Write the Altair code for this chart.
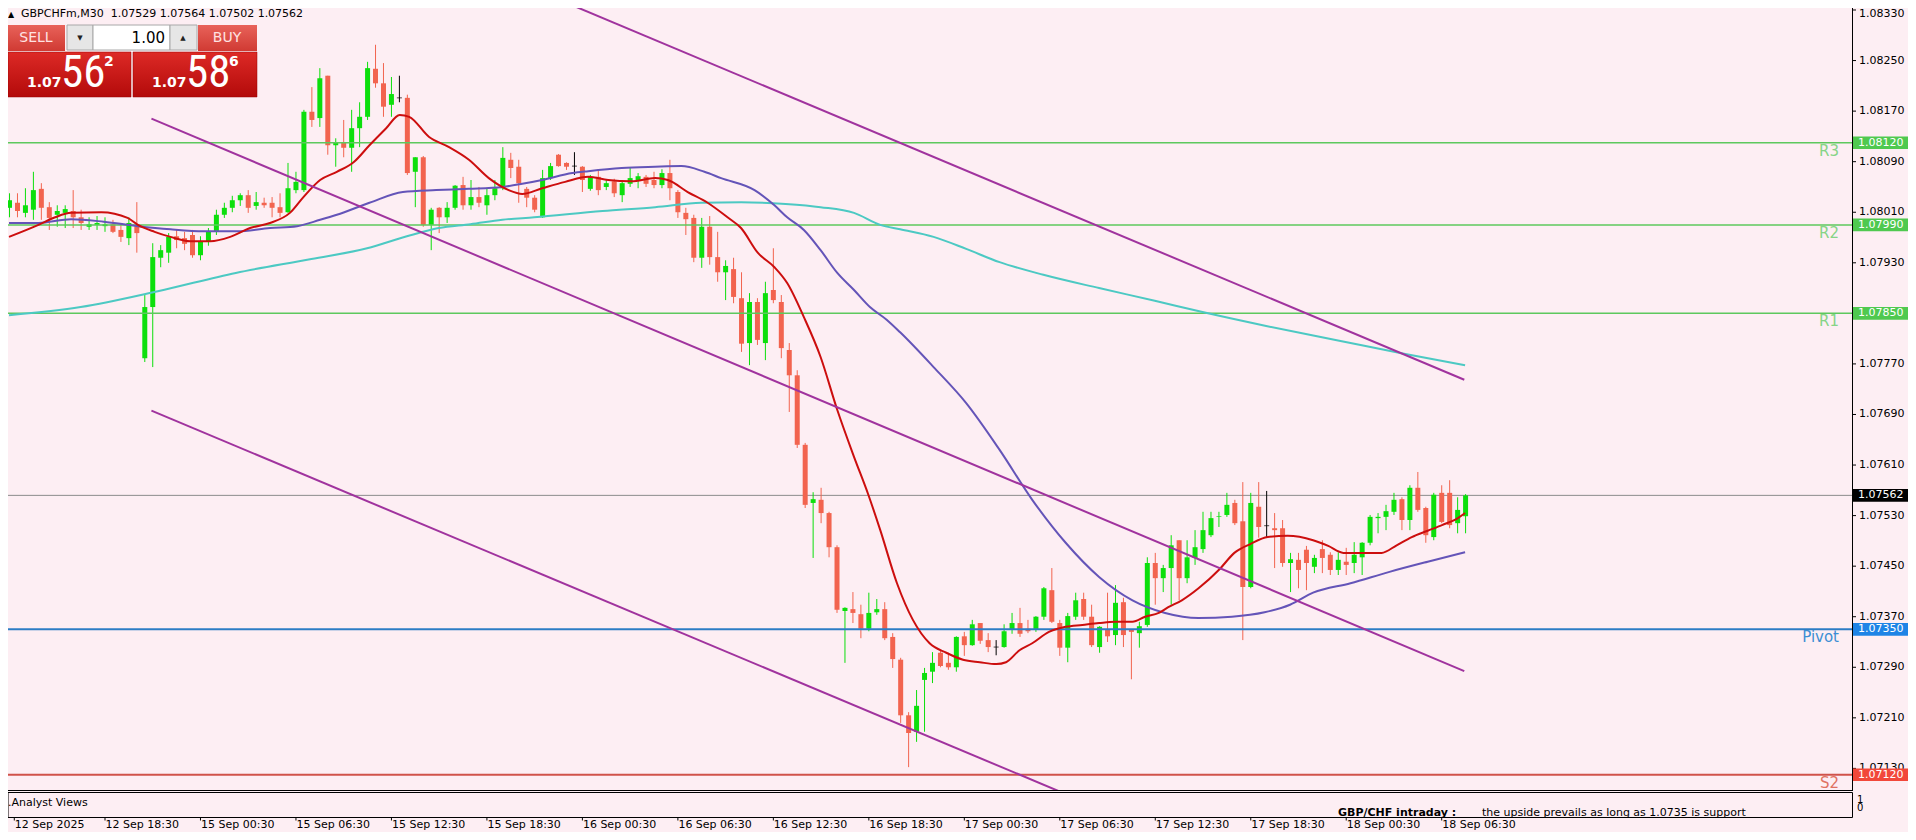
import altair as alt
import pandas as pd

# ---------------- data (GBPCHFm, M30) ----------------
bar_open = [1.08017, 1.08025, 1.08009, 1.08014, 1.08047, 1.08018, 1.08006, 1.08009, 1.08012, 1.08002,
            1.07987, 1.07990, 1.07988, 1.07991, 1.07982, 1.07969, 1.07988, 1.07779, 1.07860, 1.07938,
            1.07946, 1.07972, 1.07969, 1.07974, 1.07942, 1.07964, 1.07979, 1.08006, 1.08017, 1.08029,
            1.08037, 1.08020, 1.08025, 1.08025, 1.08018, 1.08010, 1.08045, 1.08045, 1.08169, 1.08159,
            1.08226, 1.08116, 1.08121, 1.08112, 1.08143, 1.08161, 1.08237, 1.08214, 1.08180, 1.08191,
            1.08191, 1.08074, 1.08097, 1.07990, 1.08017, 1.08002, 1.08017, 1.08053, 1.08021, 1.08034,
            1.08021, 1.08037, 1.08048, 1.08093, 1.08082, 1.08047, 1.08033, 1.08002, 1.08064, 1.08101,
            1.08088, 1.08083, 1.08082, 1.08047, 1.08066, 1.08050, 1.08059, 1.08037, 1.08055, 1.08061,
            1.08066, 1.08061, 1.08053, 1.08072, 1.08042, 1.08009, 1.08001, 1.07938, 1.07987, 1.07939,
            1.07915, 1.07920, 1.07874, 1.07803, 1.07868, 1.07803, 1.07887, 1.07868, 1.07792, 1.07752,
            1.07642, 1.07550, 1.07555, 1.07534, 1.07480, 1.07379, 1.07382, 1.07374, 1.07351, 1.07377,
            1.07382, 1.07338, 1.07302, 1.07214, 1.07188, 1.07270, 1.07283, 1.07313, 1.07297, 1.07290,
            1.07339, 1.07325, 1.07360, 1.07333, 1.07322, 1.07322, 1.07349, 1.07360, 1.07351, 1.07349,
            1.07370, 1.07412, 1.07360, 1.07321, 1.07370, 1.07398, 1.07370, 1.07322, 1.07349, 1.07341,
            1.07393, 1.07349, 1.07344, 1.07357, 1.07455, 1.07431, 1.07447, 1.07491, 1.07431, 1.07463,
            1.07477, 1.07499, 1.07528, 1.07531, 1.07550, 1.07521, 1.07417, 1.07544, 1.07514, 1.07510,
            1.07510, 1.07455, 1.07460, 1.07476, 1.07449, 1.07477, 1.07468, 1.07444, 1.07457, 1.07455,
            1.07464, 1.07487, 1.07526, 1.07528, 1.07536, 1.07556, 1.07523, 1.07574, 1.07542, 1.07496,
            1.07566, 1.07566, 1.07518, 1.07529]
bar_high = [1.08040, 1.08040, 1.08048, 1.08074, 1.08056, 1.08026, 1.08021, 1.08021, 1.08045, 1.08014,
            1.08002, 1.08004, 1.08002, 1.07998, 1.07991, 1.08002, 1.08026, 1.07879, 1.07961, 1.07958,
            1.07977, 1.07982, 1.07979, 1.07982, 1.07972, 1.07985, 1.08014, 1.08025, 1.08036, 1.08040,
            1.08045, 1.08042, 1.08033, 1.08034, 1.08040, 1.08088, 1.08074, 1.08172, 1.08208, 1.08238,
            1.08226, 1.08127, 1.08156, 1.08172, 1.08184, 1.08248, 1.08275, 1.08246, 1.08224, 1.08226,
            1.08196, 1.08097, 1.08099, 1.08017, 1.08018, 1.08026, 1.08053, 1.08066, 1.08061, 1.08050,
            1.08048, 1.08061, 1.08113, 1.08104, 1.08093, 1.08050, 1.08037, 1.08077, 1.08088, 1.08102,
            1.08089, 1.08105, 1.08083, 1.08069, 1.08078, 1.08061, 1.08063, 1.08061, 1.08080, 1.08072,
            1.08069, 1.08074, 1.08078, 1.08093, 1.08045, 1.08017, 1.08006, 1.08001, 1.08004, 1.07979,
            1.07934, 1.07938, 1.07915, 1.07882, 1.07874, 1.07900, 1.07953, 1.07879, 1.07803, 1.07760,
            1.07645, 1.07567, 1.07574, 1.07536, 1.07483, 1.07385, 1.07409, 1.07389, 1.07408, 1.07398,
            1.07393, 1.07344, 1.07305, 1.07219, 1.07254, 1.07289, 1.07314, 1.07316, 1.07313, 1.07339,
            1.07346, 1.07365, 1.07360, 1.07344, 1.07333, 1.07358, 1.07376, 1.07384, 1.07365, 1.07371,
            1.07417, 1.07447, 1.07365, 1.07376, 1.07408, 1.07408, 1.07389, 1.07355, 1.07408, 1.07420,
            1.07400, 1.07349, 1.07362, 1.07464, 1.07471, 1.07452, 1.07499, 1.07491, 1.07491, 1.07507,
            1.07536, 1.07536, 1.07536, 1.07566, 1.07555, 1.07583, 1.07566, 1.07583, 1.07569, 1.07534,
            1.07523, 1.07471, 1.07471, 1.07482, 1.07468, 1.07491, 1.07472, 1.07472, 1.07479, 1.07488,
            1.07488, 1.07531, 1.07534, 1.07547, 1.07566, 1.07559, 1.07578, 1.07599, 1.07544, 1.07566,
            1.07578, 1.07586, 1.07559, 1.07564]
bar_low = [1.08002, 1.08002, 1.08002, 1.07998, 1.07998, 1.07982, 1.07987, 1.07985, 1.07985, 1.07982,
           1.07982, 1.07982, 1.07979, 1.07977, 1.07963, 1.07958, 1.07946, 1.07773, 1.07765, 1.07923,
           1.07930, 1.07953, 1.07950, 1.07938, 1.07934, 1.07957, 1.07974, 1.08001, 1.08010, 1.08020,
           1.08009, 1.08014, 1.08017, 1.08002, 1.08002, 1.08009, 1.08040, 1.08042, 1.08145, 1.08145,
           1.08101, 1.08082, 1.08097, 1.08074, 1.08113, 1.08156, 1.08207, 1.08161, 1.08161, 1.08184,
           1.08069, 1.08018, 1.07987, 1.07950, 1.07977, 1.07993, 1.08014, 1.08014, 1.08014, 1.08018,
           1.08006, 1.08029, 1.08045, 1.08064, 1.08025, 1.08018, 1.08010, 1.08001, 1.08061, 1.08082,
           1.08077, 1.08069, 1.08042, 1.08044, 1.08037, 1.08045, 1.08034, 1.08026, 1.08050, 1.08048,
           1.08050, 1.08048, 1.08048, 1.08029, 1.08001, 1.07974, 1.07931, 1.07922, 1.07927, 1.07900,
           1.07871, 1.07866, 1.07789, 1.07768, 1.07800, 1.07776, 1.07866, 1.07779, 1.07694, 1.07637,
           1.07542, 1.07463, 1.07518, 1.07464, 1.07376, 1.07297, 1.07360, 1.07336, 1.07347, 1.07373,
           1.07333, 1.07289, 1.07202, 1.07132, 1.07172, 1.07188, 1.07265, 1.07290, 1.07286, 1.07283,
           1.07308, 1.07324, 1.07327, 1.07314, 1.07309, 1.07321, 1.07343, 1.07338, 1.07344, 1.07346,
           1.07365, 1.07360, 1.07308, 1.07298, 1.07365, 1.07365, 1.07322, 1.07313, 1.07330, 1.07325,
           1.07322, 1.07271, 1.07321, 1.07354, 1.07389, 1.07409, 1.07389, 1.07396, 1.07423, 1.07452,
           1.07471, 1.07496, 1.07512, 1.07528, 1.07515, 1.07333, 1.07415, 1.07495, 1.07495, 1.07447,
           1.07449, 1.07409, 1.07415, 1.07412, 1.07439, 1.07439, 1.07436, 1.07436, 1.07436, 1.07439,
           1.07436, 1.07483, 1.07502, 1.07507, 1.07531, 1.07507, 1.07507, 1.07536, 1.07487, 1.07491,
           1.07518, 1.07510, 1.07502, 1.07502]
bar_close = [1.08029, 1.08012, 1.08021, 1.08045, 1.08017, 1.08001, 1.08012, 1.08015, 1.08002, 1.07993,
             1.07991, 1.07993, 1.07991, 1.07979, 1.07971, 1.07993, 1.07977, 1.07860, 1.07939, 1.07950,
             1.07971, 1.07966, 1.07960, 1.07942, 1.07963, 1.07979, 1.08006, 1.08017, 1.08029, 1.08037,
             1.08017, 1.08026, 1.08021, 1.08017, 1.08009, 1.08048, 1.08058, 1.08169, 1.08156, 1.08222,
             1.08116, 1.08121, 1.08112, 1.08143, 1.08161, 1.08238, 1.08214, 1.08177, 1.08197, 1.08191,
             1.08072, 1.08097, 1.07990, 1.08014, 1.08002, 1.08017, 1.08052, 1.08021, 1.08034, 1.08025,
             1.08037, 1.08048, 1.08096, 1.08080, 1.08056, 1.08033, 1.08014, 1.08064, 1.08083, 1.08083,
             1.08082, 1.08083, 1.08061, 1.08066, 1.08045, 1.08056, 1.08040, 1.08056, 1.08064, 1.08067,
             1.08055, 1.08053, 1.08072, 1.08048, 1.08010, 1.07999, 1.07938, 1.07987, 1.07939, 1.07915,
             1.07925, 1.07876, 1.07802, 1.07868, 1.07808, 1.07882, 1.07871, 1.07795, 1.07752, 1.07642,
             1.07547, 1.07556, 1.07534, 1.07480, 1.07381, 1.07384, 1.07376, 1.07351, 1.07376, 1.07382,
             1.07336, 1.07303, 1.07214, 1.07186, 1.07229, 1.07281, 1.07297, 1.07292, 1.07290, 1.07338,
             1.07325, 1.07358, 1.07332, 1.07322, 1.07322, 1.07347, 1.07360, 1.07343, 1.07347, 1.07370,
             1.07415, 1.07362, 1.07321, 1.07371, 1.07396, 1.07370, 1.07325, 1.07354, 1.07339, 1.07392,
             1.07341, 1.07346, 1.07355, 1.07455, 1.07431, 1.07447, 1.07483, 1.07431, 1.07464, 1.07480,
             1.07507, 1.07526, 1.07529, 1.07547, 1.07518, 1.07417, 1.07550, 1.07512, 1.07514, 1.07507,
             1.07455, 1.07461, 1.07444, 1.07455, 1.07463, 1.07463, 1.07444, 1.07460, 1.07452, 1.07468,
             1.07487, 1.07528, 1.07528, 1.07537, 1.07555, 1.07523, 1.07574, 1.07539, 1.07499, 1.07563,
             1.07520, 1.07515, 1.07539, 1.07562]

date_bars = [0, 12, 24, 36, 48, 60, 72, 84, 96, 108, 120, 132, 144, 156, 168, 180]
date_labels = ["12 Sep 2025", "12 Sep 18:30", "15 Sep 00:30", "15 Sep 06:30", "15 Sep 12:30",
               "15 Sep 18:30", "16 Sep 00:30", "16 Sep 06:30", "16 Sep 12:30", "16 Sep 18:30",
               "17 Sep 00:30", "17 Sep 06:30", "17 Sep 12:30", "17 Sep 18:30", "18 Sep 00:30",
               "18 Sep 06:30"]

red_ma_bar = [0, 3.7, 5.8, 7.8, 11.6, 14.9, 16.2, 18.3, 20.3, 22.8, 25.3, 27.8, 30.3, 32.8, 35.3,
              37, 39.1, 41.2, 43.3, 45.3, 47.4, 49.1, 50.3, 52.8, 55.3, 57.8, 60.3, 62.8, 64.5, 67,
              69.9, 72.8, 75.3, 78.2, 81.2, 82.8, 85.3, 87.8, 90.3, 92, 94.1, 96.2, 97.8, 99.9, 102,
              104.1, 106.2, 108, 109.5, 111.6, 113.6, 115.7, 117.8, 119.9, 122, 124.1, 125.3, 127,
              128.6, 130.7, 132.8, 134.9, 137, 139, 141.2, 142.8, 144.5, 145.7, 147.4, 149.5, 152.2,
              154, 156, 158.2, 160.7, 163.9, 165.8, 167.7, 170.1, 172.5, 174.4, 176.3, 178.3, 180.1,
              182.1, 183]
red_ma = [1.07971, 1.07990, 1.08002, 1.08009, 1.08010, 1.08001, 1.07990, 1.07979, 1.07971, 1.07964,
          1.07964, 1.07971, 1.07985, 1.07993, 1.08009, 1.08034, 1.08061, 1.08074, 1.08089, 1.08116,
          1.08143, 1.08164, 1.08161, 1.08129, 1.08113, 1.08093, 1.08064, 1.08045, 1.08039, 1.08048,
          1.08058, 1.08066, 1.08061, 1.08059, 1.08064, 1.08061, 1.08042, 1.08025, 1.08002, 1.07985,
          1.07946, 1.07923, 1.07898, 1.07844, 1.07781, 1.07697, 1.07623, 1.07563, 1.07507, 1.07423,
          1.07365, 1.07328, 1.07313, 1.07302, 1.07298, 1.07295, 1.07298, 1.07317, 1.07328, 1.07346,
          1.07354, 1.07357, 1.07360, 1.07362, 1.07362, 1.07370, 1.07376, 1.07385, 1.07396, 1.07415,
          1.07446, 1.07471, 1.07485, 1.07496, 1.07498, 1.07491, 1.07482, 1.07471, 1.07471, 1.07471,
          1.07483, 1.07496, 1.07506, 1.07515, 1.07526, 1.07534]

slate_ma_bar = [0, 3.7, 7.8, 11.9, 16.2, 20.3, 24.5, 28.7, 32.8, 36.2, 39.1, 41.2, 45.3, 49.5, 53.7,
                57.8, 62, 64.5, 67, 70.8, 72.8, 77, 81.2, 84.5, 87.4, 89.5, 93.7, 96.2, 97.8, 99.9,
                102, 104.1, 106.2, 108.2, 110.3, 112, 116.2, 120.3, 124.5, 128.6, 132.8, 137, 141.2,
                145.3, 149.5, 153.7, 157.8, 161, 163.9, 168.6, 173.5, 178.3, 183]
slate_ma = [1.07993, 1.07993, 1.07999, 1.07995, 1.07988, 1.07983, 1.07980, 1.07980, 1.07985, 1.07988,
            1.07998, 1.08006, 1.08025, 1.08042, 1.08045, 1.08047, 1.08050, 1.08055, 1.08061, 1.08072,
            1.08075, 1.08080, 1.08082, 1.08083, 1.08074, 1.08064, 1.08045, 1.08021, 1.08002, 1.07982,
            1.07950, 1.07914, 1.07887, 1.07860, 1.07840, 1.07820, 1.07765, 1.07708, 1.07634, 1.07555,
            1.07487, 1.07433, 1.07396, 1.07376, 1.07368, 1.07370, 1.07377, 1.07389, 1.07408, 1.07423,
            1.07441, 1.07457, 1.07472]

cyan_ma_bar = [0, 9, 18.7, 28.5, 38, 45, 50, 54, 58, 62, 66, 74.6, 81.2, 87, 92, 97.6, 102, 106.2,
               109.5, 112, 116.2, 120.3, 124.5, 130, 137, 144, 150, 158, 167.5, 175, 183]
cyan_ma = [1.07847, 1.07860, 1.07885, 1.07914, 1.07936, 1.07953, 1.07972, 1.07985, 1.07991, 1.07998,
           1.08002, 1.08012, 1.08018, 1.08025, 1.08026, 1.08023, 1.08018, 1.08009, 1.07990, 1.07983,
           1.07971, 1.07952, 1.07931, 1.07911, 1.07890, 1.07870, 1.07852, 1.07830, 1.07806, 1.07787,
           1.07768]

trend_name = ["upper", "upper", "middle", "middle", "lower", "lower"]
trend_bar = [70.5, 182.9, 17.9, 182.9, 17.9, 182.9]
trend_price = [1.08339, 1.07745, 1.08158, 1.07284, 1.07696, 1.06825]

level_names = ["R3", "R2", "R1", "Pivot", "S2"]
level_values = [1.0812, 1.0799, 1.0785, 1.0735, 1.0712]
bid_price = 1.07562
axis_ticks = [1.07130, 1.07210, 1.07290, 1.07370, 1.07450, 1.07530, 1.07610, 1.07690,
              1.07770, 1.07850, 1.07930, 1.08010, 1.08090, 1.08170, 1.08250, 1.08330]

# ---------------- styling ----------------
BG = "#FDEEF3"
UP = "#0CDF0C"
DOWN = "#F2644F"
FONT = "DejaVu Sans"
level_line_color = ["#5DC85D", "#5DC85D", "#5DC85D", "#2C7CC4", "#D0524A"]
level_line_width = [1.5, 1.5, 1.5, 2, 2]
level_text_color = ["#86D486", "#86D486", "#86D486", "#3C8ED4", "#E07262"]
level_tag_color = ["#4FC94F", "#4FC94F", "#4FC94F", "#1E84E6", "#F2483A"]

W, H = 1844, 782
xs = alt.Scale(domain=[0.5, 231.0], nice=False, zero=False)
ys = alt.Scale(domain=[1.0709582, 1.0833316], nice=False, zero=False)

candles = pd.DataFrame({"bar": list(range(len(bar_open))), "open": bar_open, "high": bar_high,
                        "low": bar_low, "close": bar_close})
candles["dir"] = ["up" if c > o else ("down" if c < o else "doji") for o, c in zip(bar_open, bar_close)]


def X(f):
    return alt.X(f, scale=xs, axis=None)


def Y(f):
    return alt.Y(f, scale=ys, axis=None)


one = pd.DataFrame({"k": [0]})


def box(x1, x2, y1, y2, **kw):
    return alt.Chart(one).mark_rect(**kw).encode(x=alt.value(x1), x2=alt.value(x2),
                                                 y=alt.value(y1), y2=alt.value(y2))


def txt(x, y, s, **kw):
    kw.setdefault("font", FONT)
    return alt.Chart(one).mark_text(text=s, **kw).encode(x=alt.value(x), y=alt.value(y))


layers = []

# bid line
layers.append(alt.Chart(pd.DataFrame({"price": [bid_price]})).mark_rule(color="#8C8C8C", strokeWidth=1)
              .encode(y=Y("price:Q")))

# candles
cbase = alt.Chart(candles)
for d, col in [("up", UP), ("down", DOWN), ("doji", "#000000")]:
    sub = cbase.transform_filter(alt.datum.dir == d)
    layers.append(sub.mark_rule(color=col, strokeWidth=1, xOffset=0.5)
                  .encode(x=X("bar:Q"), y=Y("high:Q"), y2=alt.Y2("low:Q")))
    if d == "doji":
        layers.append(sub.mark_tick(color=col, orient="horizontal", size=5, thickness=1, xOffset=0.5)
                      .encode(x=X("bar:Q"), y=Y("open:Q")))
    else:
        layers.append(sub.mark_bar(color=col, size=5, xOffset=0.5)
                      .encode(x=X("bar:Q"), y=Y("open:Q"), y2=alt.Y2("close:Q")))

# pivot levels
for nm, val, lc, lw in zip(level_names, level_values, level_line_color, level_line_width):
    layers.append(alt.Chart(pd.DataFrame({"price": [val]})).mark_rule(color=lc, strokeWidth=lw)
                  .encode(y=Y("price:Q")))

# moving averages
for bars, vals, col in [(cyan_ma_bar, cyan_ma, "#4CC9C3"), (slate_ma_bar, slate_ma, "#6454B8"),
                        (red_ma_bar, red_ma, "#CC0E0E")]:
    df = pd.DataFrame({"bar": bars, "price": vals})
    layers.append(alt.Chart(df).mark_line(color=col, strokeWidth=2, interpolate="monotone", clip=True)
                  .encode(x=X("bar:Q"), y=Y("price:Q")))

# channel lines
tdf = pd.DataFrame({"name": trend_name, "bar": trend_bar, "price": trend_price})
layers.append(alt.Chart(tdf).mark_line(color="#A0339E", strokeWidth=2, clip=True)
              .encode(x=X("bar:Q"), y=Y("price:Q"), detail="name:N"))

# price axis on the right (domain line, ticks, labels)
adf = pd.DataFrame({"price": axis_ticks, "label": ["%.5f" % v for v in axis_ticks]})
layers.append(alt.Chart(one).mark_rule(color="black", strokeWidth=1)
              .encode(x=alt.value(W + 0.5), y=alt.value(0), y2=alt.value(H)))
layers.append(alt.Chart(adf).mark_rule(color="black", strokeWidth=1)
              .encode(x=alt.value(W + 0.5), x2=alt.value(W + 4), y=Y("price:Q")))
top_tick = max(axis_ticks)
layers.append(alt.Chart(adf).transform_filter(alt.datum.price < top_tick - 0.00001)
              .mark_text(font=FONT, fontSize=11, align="left", baseline="middle", color="black")
              .encode(x=alt.value(W + 7), y=Y("price:Q"), text="label:N"))
layers.append(alt.Chart(adf).transform_filter(alt.datum.price >= top_tick - 0.00001)
              .mark_text(font=FONT, fontSize=11, align="left", baseline="top", color="black", dy=-2)
              .encode(x=alt.value(W + 7), y=Y("price:Q"), text="label:N"))

# level labels and price tags
for nm, val, tc, gc in zip(level_names, level_values, level_text_color, level_tag_color):
    ldf = pd.DataFrame({"price": [val], "name": [nm], "tag": ["%.5f" % val]})
    layers.append(alt.Chart(ldf).mark_text(color=tc, font=FONT, fontSize=15, align="right",
                                           baseline="top", dy=1, clip=True)
                  .encode(x=alt.value(1831), y=Y("price:Q"), text="name:N"))
    layers.append(alt.Chart(ldf).transform_calculate(top="datum.price + 0.0001", bot="datum.price - 0.0001")
                  .mark_rect(color=gc).encode(x=alt.value(1845), x2=alt.value(1903),
                                              y=Y("top:Q"), y2=alt.Y2("bot:Q")))
    layers.append(alt.Chart(ldf).mark_text(color="white", font=FONT, fontSize=11, align="left",
                                           baseline="middle")
                  .encode(x=alt.value(1850), y=Y("price:Q"), text="tag:N"))

bdf = pd.DataFrame({"price": [bid_price], "tag": ["%.5f" % bid_price]})
layers.append(alt.Chart(bdf).transform_calculate(top="datum.price + 0.0001", bot="datum.price - 0.0001")
              .mark_rect(color="black").encode(x=alt.value(1845), x2=alt.value(1903),
                                               y=Y("top:Q"), y2=alt.Y2("bot:Q")))
layers.append(alt.Chart(bdf).mark_text(color="white", font=FONT, fontSize=11, align="left", baseline="middle")
              .encode(x=alt.value(1850), y=Y("price:Q"), text="tag:N"))

# main panel bottom border and indicator sub-window
layers.append(alt.Chart(one).mark_rule(color="black", strokeWidth=1)
              .encode(x=alt.value(0), x2=alt.value(W + 1), y=alt.value(782.5)))
layers.append(txt(0, 795, ".Analyst Views", fontSize=11, align="left", baseline="middle", color="black"))
layers.append(txt(1330, 808, "GBP/CHF intraday :", fontSize=11, fontWeight="bold", align="left",
                  baseline="alphabetic", color="black"))
layers.append(txt(1474, 808, "the upside prevails as long as 1.0735 is support", fontSize=11,
                  align="left", baseline="alphabetic", color="black"))
layers.append(box(1300, 1850, 809.5, 812, color=BG))
layers.append(box(0, W + 0.5, 784.5, 809.5, fillOpacity=0, stroke="black", strokeWidth=1))
layers.append(txt(1849, 792, "1", fontSize=10, align="left", baseline="middle", color="black"))
layers.append(txt(1849, 800, "0", fontSize=10, align="left", baseline="middle", color="black"))

# time labels
ddf = pd.DataFrame({"bar": date_bars, "label": date_labels})
dbase = alt.Chart(ddf).transform_calculate(pos="max(datum.bar, 0.6)")
layers.append(dbase.mark_rule(color="black", strokeWidth=1, xOffset=0.5)
              .encode(x=X("pos:Q"), y=alt.value(809.5), y2=alt.value(812.5)))
layers.append(dbase.mark_text(font=FONT, fontSize=11, align="left", baseline="middle", dx=1, color="black")
              .encode(x=X("pos:Q"), y=alt.value(817), text="label:N"))

# header
layers.append(txt(0, 9, "\u25B2", fontSize=8, align="left", baseline="alphabetic", color="black"))
layers.append(txt(13, 9, "GBPCHFm,M30\u00a0\u00a01.07529 1.07564 1.07502 1.07562", fontSize=11,
                  align="left", baseline="alphabetic", color="black"))

# one-click trading panel
grad_btn = alt.LinearGradient(gradient="linear", x1=0, x2=0, y1=0, y2=1,
                              stops=[alt.GradientStop(color="#E8625A", offset=0),
                                     alt.GradientStop(color="#D03A33", offset=1)])
grad_px = alt.LinearGradient(gradient="linear", x1=0, x2=0, y1=0, y2=1,
                             stops=[alt.GradientStop(color="#DD2A26", offset=0),
                                    alt.GradientStop(color="#B30A0A", offset=1)])
layers.append(box(0, 57, 17, 43, color=grad_btn))
layers.append(box(190, 249, 17, 43, color=grad_btn))
layers.append(box(0, 123, 44, 89, color=grad_px, stroke="#9A0000", strokeWidth=0.5))
layers.append(box(125, 249, 44, 89, color=grad_px, stroke="#9A0000", strokeWidth=0.5))
layers.append(box(59, 85, 17, 42, color="#E6E6E6", stroke="#A8A8A8", strokeWidth=1))
layers.append(box(85, 162, 17, 42, color="#FFFFFF", stroke="#A8A8A8", strokeWidth=1))
layers.append(box(162, 189, 17, 42, color="#E6E6E6", stroke="#A8A8A8", strokeWidth=1))
layers.append(txt(28, 30, "SELL", fontSize=14, align="center", baseline="middle", color="#FFE2E2"))
layers.append(txt(219, 30, "BUY", fontSize=14, align="center", baseline="middle", color="#FFE2E2"))
layers.append(txt(72, 30, "\u25BC", fontSize=7, align="center", baseline="middle", color="#222222"))
layers.append(txt(175, 30, "\u25B2", fontSize=7, align="center", baseline="middle", color="#222222"))
layers.append(txt(157, 30, "1.00", fontSize=15, align="right", baseline="middle", color="black"))
NARROW = "Liberation Sans Narrow, Roboto Condensed, Liberation Sans"
for x0, big, small in [(0, "56", "2"), (125, "58", "6")]:
    layers.append(txt(x0 + 19, 79, "1.07", fontSize=14, fontWeight="bold", align="left",
                      baseline="alphabetic", color="white"))
    layers.append(txt(x0 + 53, 79, big, font=NARROW, fontSize=45, align="left",
                      baseline="alphabetic", color="white"))
    layers.append(txt(x0 + 96, 47, small, fontSize=14, fontWeight="bold", align="left",
                      baseline="top", color="white"))

chart = alt.layer(*layers).properties(
    width=W, height=H,
    autosize=alt.AutoSizeParams(type="none"),
    padding={"left": 0, "top": 0, "right": 56, "bottom": 42},
).configure(background=BG).configure_view(stroke=None)

chart.save("out.html", embed_options={"renderer": "svg", "actions": False})
